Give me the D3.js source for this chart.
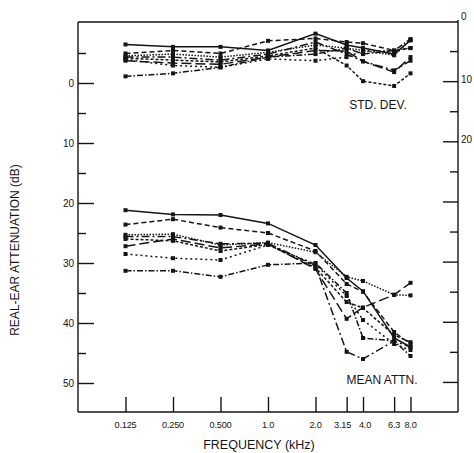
<!DOCTYPE html>
<html><head><meta charset="utf-8">
<script src="https://cdn.jsdelivr.net/npm/d3@7"></script>
<style>
html,body{margin:0;padding:0;background:#fff;}
svg{display:block;font-family:"Liberation Sans",Arial,sans-serif;}
</style></head>
<body><svg id="c" width="474" height="453"></svg>
<script>
// ---- data ----
const freqs = [0.125, 0.25, 0.5, 1.0, 2.0, 3.15, 4.0, 6.3, 8.0];
const freqLabels = ["0.125","0.250","0.500","1.0","2.0","3.15","4.0","6.3","8.0"];
const leftTicks = [0,10,20,30,40,50];
const rightTicks = [0,10,20];

// mean attenuation (dB, left axis)
const mean1 = [21.2, 21.9, 22.0, 23.4, 27.0, 32.5, 34.7, 42.5, 44.0];
const mean2 = [23.6, 22.7, 24.1, 25.0, 28.0, 33.5, 34.8, 41.5, 43.5];
const mean3 = [25.3, 25.2, 27.0, 26.6, 28.2, 32.3, 33.0, 35.3, 35.4];
const mean4 = [25.6, 25.6, 26.8, 26.7, 30.5, 44.8, 46.0, 43.0, 44.0];
const mean5 = [26.0, 26.3, 28.0, 26.9, 30.8, 36.5, 37.5, 42.0, 43.2];
const mean6 = [27.2, 26.0, 27.5, 26.8, 31.0, 39.3, 37.4, 35.3, 33.3];
const mean7 = [28.5, 29.2, 29.5, 27.0, 30.2, 35.5, 39.5, 43.5, 44.5];
const mean8 = [31.3, 31.3, 32.3, 30.3, 30.0, 35.0, 42.5, 43.0, 45.5];

// standard deviation (dB, right axis)
const sd1 = [3.9, 4.3, 4.3, 4.9, 2.1, 4.0, 4.5, 5.5, 3.2];
const sd2 = [5.4, 4.9, 5.4, 3.3, 2.9, 3.5, 3.7, 4.9, 4.5];
const sd3 = [5.8, 5.5, 6.0, 5.2, 4.0, 4.5, 4.9, 5.7, 3.2];
const sd4 = [6.0, 6.0, 6.5, 5.5, 3.5, 5.5, 6.7, 8.2, 6.6];
const sd5 = [6.2, 6.5, 6.8, 5.8, 4.5, 7.4, 10.0, 10.8, 8.7];
const sd6 = [6.6, 7.0, 7.2, 6.0, 4.9, 5.0, 6.7, 8.5, 6.0];
const sd7 = [6.4, 7.4, 7.7, 6.3, 6.6, 6.0, 5.0, 5.0, 4.5];
const sd8 = [9.2, 8.7, 7.7, 6.0, 5.5, 4.5, 5.5, 4.9, 3.0];

const meanSeries = [mean1, mean2, mean3, mean4, mean5, mean6, mean7, mean8];
const sdSeries = [sd1, sd2, sd3, sd4, sd5, sd6, sd7, sd8];
const dashes = [null, "5,3", "1.5,1.5", "8,3,2,3", "3,2", "10,4", "2,3", "6,2,1.5,2"];

// ---- layout ----
const L = 78, R = 458, T = 22, B = 412;
const ink = "#151515";
const svg = d3.select("#c");

const x = d3.scaleLog().domain([0.0625, 16]).range([L, R]);
const yL = d3.scaleLinear().domain([-10, 55]).range([T + 1, B + 1]);
const yR = d3.scaleLinear().domain([0, 65]).range([T - 1, B]);

// frame top
svg.append("line").attr("x1", L).attr("x2", R).attr("y1", T).attr("y2", T).attr("stroke", ink).attr("stroke-width", 1.4);

// left axis
const gL = svg.append("g").attr("transform", `translate(${L},0)`);
gL.call(d3.axisRight(yL).tickValues(leftTicks).tickSize(16).tickFormat(""));
gL.select(".domain").attr("d", `M0,${T}V${B}`);
gL.selectAll("path,line").attr("stroke", ink).attr("stroke-width", 1.4);
const gLm = svg.append("g").attr("transform", `translate(${L},0)`);
gLm.call(d3.axisRight(yL).tickValues([-5,5,15,25,35,45]).tickSize(8).tickFormat(""));
gLm.select(".domain").remove();
gLm.selectAll("line").attr("stroke", ink).attr("stroke-width", 1.4);
svg.append("g").selectAll("text").data(leftTicks).join("text")
  .attr("x", L - 4).attr("y", d => yL(d)).attr("dy", "0.35em")
  .attr("text-anchor", "end").attr("font-size", 10).attr("fill", ink).text(d => d);

// right axis
const gR = svg.append("g").attr("transform", `translate(${R},0)`);
gR.call(d3.axisLeft(yR).tickValues([10,20,30,40,50,60]).tickSize(15).tickFormat(""));
gR.select(".domain").attr("d", `M0,${T - 2}V${B}`);
gR.selectAll("path,line").attr("stroke", ink).attr("stroke-width", 1.4);
const gRm = svg.append("g").attr("transform", `translate(${R},0)`);
gRm.call(d3.axisLeft(yR).tickValues([5,15,25,35,45,55]).tickSize(8).tickFormat(""));
gRm.select(".domain").remove();
gRm.selectAll("line").attr("stroke", ink).attr("stroke-width", 1.4);
svg.append("g").selectAll("text").data(rightTicks).join("text")
  .attr("x", R + 3).attr("y", d => yR(d) - (d === 0 ? 5 : 2)).attr("dy", "0.35em")
  .attr("text-anchor", "start").attr("font-size", 10).attr("fill", ink).text(d => d);

// bottom axis
const gB = svg.append("g").attr("transform", `translate(0,${B})`);
gB.call(d3.axisTop(x).tickValues(freqs).tickSize(15).tickFormat(""));
gB.select(".domain").attr("d", `M${L},0H${R}`);
gB.selectAll("path,line").attr("stroke", ink).attr("stroke-width", 1.4);
// small nudges so the crowded high-frequency labels do not touch
const nudge = lab => lab === "3.15" ? -4 : lab === "4.0" ? 2 : 0;
svg.append("g").selectAll("text").data(freqs).join("text")
  .attr("x", (d, i) => x(d) + nudge(freqLabels[i])).attr("y", B + 13).attr("dy", "0.35em")
  .attr("text-anchor", "middle").attr("font-size", 9.2).attr("letter-spacing", -0.2).attr("fill", ink)
  .text((d, i) => freqLabels[i]);

// titles
svg.append("text").attr("x", 259).attr("y", 445).attr("dy", "0.35em")
  .attr("text-anchor", "middle").attr("font-size", 12.5).attr("fill", ink).text("FREQUENCY (kHz)");
svg.append("text").attr("transform", "translate(15,250) rotate(-90)").attr("dy", "0.35em")
  .attr("text-anchor", "middle").attr("font-size", 12).attr("fill", ink).text("REAL-EAR ATTENUATION (dB)");
svg.append("text").attr("x", 378).attr("y", 105).attr("dy", "0.35em")
  .attr("text-anchor", "middle").attr("font-size", 12).attr("fill", ink).text("STD. DEV.");
svg.append("text").attr("x", 382).attr("y", 380).attr("dy", "0.35em")
  .attr("text-anchor", "middle").attr("font-size", 12).attr("fill", ink).text("MEAN ATTN.");

// series
function drawSeries(series, yScale) {
  const line = d3.line().x((d, i) => x(freqs[i])).y(d => yScale(d));
  series.forEach((vals, k) => {
    svg.append("path").datum(vals).attr("d", line)
      .attr("fill", "none").attr("stroke", ink).attr("stroke-width", 1.5)
      .attr("stroke-dasharray", dashes[k]);
    svg.append("g").selectAll("rect").data(vals).join("rect")
      .attr("x", (d, i) => x(freqs[i]) - 2).attr("y", d => yScale(d) - 2)
      .attr("width", 4).attr("height", 4).attr("fill", ink);
  });
}
drawSeries(meanSeries, yL);
drawSeries(sdSeries, yR);
</script></body></html>
